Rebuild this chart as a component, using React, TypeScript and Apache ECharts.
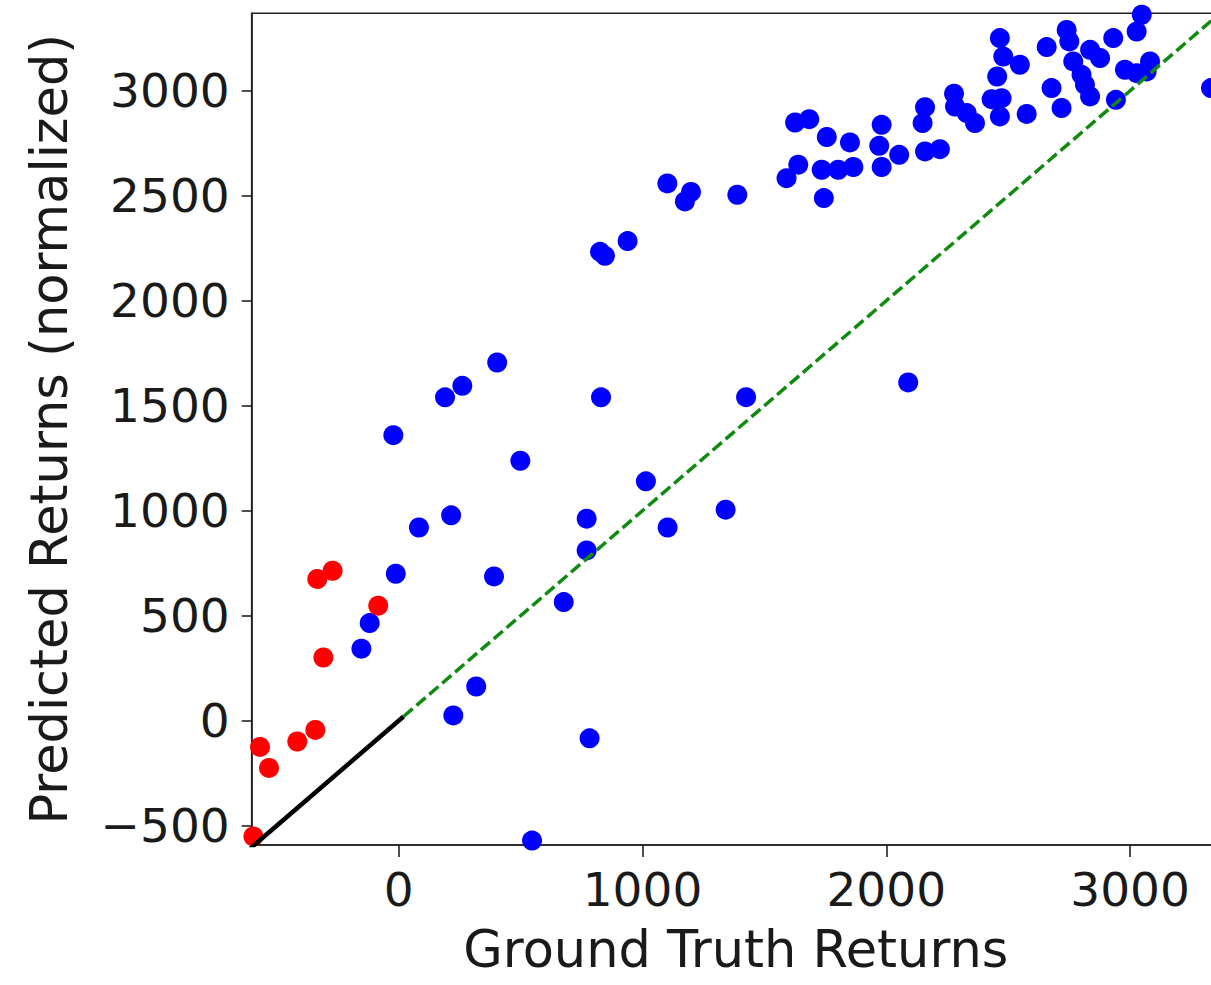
import React, { useEffect, useRef } from "react";
import * as echarts from "echarts";

const xTicks = [0, 1000, 2000, 3000];
const yTicks = [-500, 0, 500, 1000, 1500, 2000, 2500, 3000];
const xRange = [-603, 3369];
const yRange = [-592, 3369];

const redPoints: number[][] = [
  [-334, 675], [-271, 714], [-84, 548], [-309, 301], [-569, -125],
  [-532, -225], [-416, -99], [-342, -44], [-596, -551],
];

const bluePoints: number[][] = [
  [-12, 700], [-119, 465], [-153, 343], [391, 687], [677, 565], [771, 811],
  [318, 163], [224, 25], [783, -84], [547, -571], [404, 1706], [261, 1595],
  [190, 1540], [830, 1540], [-22, 1360], [499, 1238], [1014, 1140], [215, 978],
  [83, 920], [771, 962], [1102, 2559], [1199, 2518], [1174, 2473], [1389, 2505],
  [1591, 2584], [1639, 2648], [1735, 2624], [1803, 2624], [1865, 2637],
  [1981, 2637], [1744, 2489], [939, 2284], [826, 2233], [846, 2214],
  [1425, 1541], [2090, 1611], [1341, 1005], [1103, 920], [1626, 2849],
  [1684, 2865], [1756, 2780], [1851, 2754], [1981, 2838], [1971, 2738],
  [2053, 2695], [2159, 2922], [2149, 2846], [2159, 2711], [2220, 2722],
  [2278, 2986], [2282, 2925], [2330, 2894], [2364, 2846], [2466, 3251],
  [2480, 3163], [2548, 3124], [2455, 3068], [2432, 2960], [2473, 2965],
  [2466, 2878], [2576, 2890], [2658, 3208], [2740, 3290], [2751, 3235],
  [2767, 3140], [2801, 3076], [2815, 3029], [2836, 2973], [2836, 3195],
  [2877, 3156], [2678, 3013], [2719, 2918], [2931, 3251], [3027, 3282],
  [3048, 3362], [2979, 3100], [3027, 3084], [3082, 3140], [3068, 3092],
  [2942, 2957], [3332, 3013],
];

const blackLine: number[][] = [[-650, -650], [20, 20]];
const greenLine: number[][] = [[20, 20], [3400, 3400]];

const FONT = "DejaVu Sans";
const fmt = (v: number) => String(v).replace("-", "\u2212");

export default function App() {
  const ref = useRef<HTMLDivElement>(null);
  useEffect(() => {
    if (!ref.current) return;
    const chart = echarts.init(ref.current, undefined, { renderer: "svg" });
    chart.setOption({
      animation: false,
      backgroundColor: "#ffffff",
      grid: {
        left: 251.7,
        top: 13.3,
        right: 0,
        bottom: 140,
        show: true,
        borderColor: "#222",
        borderWidth: 1.6,
        backgroundColor: "transparent",
      },
      xAxis: {
        type: "value",
        min: xRange[0],
        max: xRange[1],
        name: "Ground Truth Returns",
        nameLocation: "middle",
        nameGap: 79,
        nameTextStyle: { fontFamily: FONT, fontSize: 51, color: "#1a1a1a" },
        splitLine: { show: false },
        axisLine: { onZero: false, lineStyle: { color: "#222", width: 1.6 } },
        axisTick: { show: true, length: 12, customValues: xTicks, lineStyle: { color: "#222", width: 1.6 } },
        axisLabel: {
          customValues: xTicks,
          formatter: fmt,
          margin: 21,
          fontFamily: FONT,
          fontSize: 47,
          color: "#1a1a1a",
        },
      },
      yAxis: {
        type: "value",
        min: yRange[0],
        max: yRange[1],
        name: "Predicted Returns (normalized)",
        nameLocation: "middle",
        nameGap: 177,
        nameTextStyle: { fontFamily: FONT, fontSize: 51, color: "#1a1a1a" },
        splitLine: { show: false },
        axisLine: { onZero: false, lineStyle: { color: "#222", width: 1.6 } },
        axisTick: { show: true, length: 10, customValues: yTicks, lineStyle: { color: "#222", width: 1.6 } },
        axisLabel: {
          customValues: yTicks,
          formatter: fmt,
          margin: 22,
          fontFamily: FONT,
          fontSize: 47,
          color: "#1a1a1a",
        },
      },
      series: [
        {
          type: "scatter",
          data: bluePoints,
          symbol: "circle",
          symbolSize: 20,
          itemStyle: { color: "#0000ff", opacity: 1 },
          z: 2,
        },
        {
          type: "scatter",
          data: redPoints,
          symbol: "circle",
          symbolSize: 20,
          itemStyle: { color: "#ff0000", opacity: 1 },
          z: 2,
        },
        {
          type: "line",
          data: blackLine,
          showSymbol: false,
          symbol: "none",
          lineStyle: { color: "#000000", width: 4.5 },
          z: 3,
        },
        {
          type: "line",
          data: greenLine,
          showSymbol: false,
          symbol: "none",
          lineStyle: { color: "#108a10", width: 3.5, type: [12, 5] },
          z: 3,
        },
      ],
    });
    return () => chart.dispose();
  }, []);
  return (
    <div
      style={{ position: "absolute", left: 0, top: 0, width: 1211, height: 985, overflow: "hidden", background: "#fff" }}
    >
      <div ref={ref} style={{ width: 1220, height: 985 }} />
    </div>
  );
}
